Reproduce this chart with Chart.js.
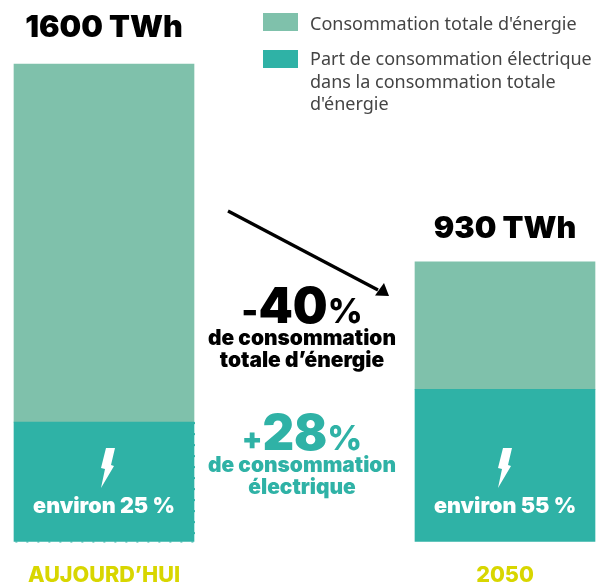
<!DOCTYPE html>
<html lang="fr"><head><meta charset="utf-8">
<script src="https://cdn.jsdelivr.net/npm/chart.js@4"></script>
<style>html,body{margin:0;padding:0;background:#fff}#w{position:absolute;left:0;top:0;width:608px;height:585px}canvas{display:block}</style>
</head><body><div id="w"><canvas id="c" width="608" height="585"></canvas></div>
<script>
const categories = ["AUJOURD’HUI", "2050"];
const electricValues = [400, 510];
const remainingValues = [1200, 427];
const totalLabels = ["1600 TWh", "930 TWh"];
const shareLabels = ["environ 25 %", "environ 55 %"];
const seriesNames = ["Part de consommation électrique dans la consommation totale d'énergie", "Consommation totale d'énergie"];
const legendLines = [["Consommation totale d'énergie"], ["Part de consommation électrique", "dans la consommation totale", "d'énergie"]];
const TEAL = "#2FB2A6", SAGE = "#7FC1AB", YELLOW = "#D8D600", INK = "#000000";
const HEAVY = "Inter";

function text(ctx, s, x, y, size, color, align, weight) {
  ctx.font = (weight || 900) + " " + size + "px " + HEAVY + ", sans-serif";
  ctx.fillStyle = color; ctx.textAlign = align || "center"; ctx.textBaseline = "alphabetic";
  ctx.fillText(s, x, y);
}
function bigPercent(ctx, sign, signSize, signLift, num, cx, y, color) {
  ctx.font = "900 " + signSize + "px " + HEAVY; const s = ctx.measureText(sign).width;
  ctx.font = "900 49px " + HEAVY; const a = ctx.measureText(num).width;
  ctx.font = "800 34px " + HEAVY; const b = ctx.measureText("%").width;
  const x0 = cx - (s + a + b) / 2;
  text(ctx, sign, x0, y - signLift, signSize, color, "left", 900);
  text(ctx, num, x0 + s, y, 49, color, "left", 900);
  text(ctx, "%", x0 + s + a, y, 34, color, "left", 800);
}
function bolt(ctx, cx, topY) {
  const p = [[2,0],[11,0],[7,17],[10,18],[-3,40],[1,21],[-3,20]];
  ctx.fillStyle = "#fff"; ctx.beginPath();
  p.forEach((q, i) => { const X = cx + q[0], Y = topY + q[1]; i ? ctx.lineTo(X, Y) : ctx.moveTo(X, Y); });
  ctx.closePath(); ctx.fill();
}
const annotations = {
  id: "annotations",
  afterDatasetsDraw(chart) {
    const ctx = chart.ctx, elec = chart.getDatasetMeta(0).data, rest = chart.getDatasetMeta(1).data;
    ctx.save();
    rest.forEach((b, i) => text(ctx, totalLabels[i], b.x, b.y - (i ? 24 : 27), 30.5, INK));
    elec.forEach((b, i) => {
      bolt(ctx, b.x - (i ? 4 : 0), 448);
      text(ctx, shareLabels[i], b.x, 513, 21.5, "#fff");
    });
    const e = elec[0];
    ctx.strokeStyle = TEAL; ctx.lineWidth = 1; ctx.setLineDash([2, 9]);
    ctx.beginPath(); ctx.moveTo(e.x + 90.5, e.y); ctx.lineTo(e.x + 90.5, e.base + 0.5); ctx.lineTo(e.x - 90, e.base + 0.5); ctx.stroke();
    ctx.setLineDash([]);
    ctx.strokeStyle = INK; ctx.lineWidth = 3.3; ctx.beginPath(); ctx.moveTo(228, 211); ctx.lineTo(378, 290); ctx.stroke();
    ctx.fillStyle = INK; ctx.beginPath(); ctx.moveTo(389, 296); ctx.lineTo(375, 295.5); ctx.lineTo(384, 283); ctx.closePath(); ctx.fill();
    bigPercent(ctx, "-", 36, 0, "40", 302, 323, INK);
    text(ctx, "de consommation", 302, 345, 20.9, INK);
    text(ctx, "totale d’énergie", 302, 367, 20.9, INK);
    bigPercent(ctx, "+", 30, 1, "28", 302, 450, TEAL);
    text(ctx, "de consommation", 302, 472, 20.9, TEAL);
    text(ctx, "électrique", 302, 494, 20.9, TEAL);
    const sw = [SAGE, TEAL], swY = [13, 50], lineY = [[30], [65, 88, 110]];
    sw.forEach((c, i) => {
      ctx.fillStyle = c; ctx.fillRect(263, swY[i], 35, 18);
      ctx.font = "400 18px 'Noto Sans', sans-serif"; ctx.fillStyle = "#444444"; ctx.textAlign = "left";
      legendLines[i].forEach((l, j) => ctx.fillText(l, 310, lineY[i][j]));
    });
    ctx.restore();
  }
};
new Chart(document.getElementById("c"), {
  type: "bar",
  data: {
    labels: categories,
    datasets: [
      { label: seriesNames[0], data: electricValues, backgroundColor: TEAL, barThickness: 180, clip: false, stack: "s" },
      { label: seriesNames[1], data: remainingValues, backgroundColor: SAGE, barThickness: 180, clip: false, stack: "s" }
    ]
  },
  options: {
    responsive: false, animation: false, devicePixelRatio: 1,
    layout: { padding: { left: 104, right: 103, top: 64, bottom: 0 } },
    plugins: { legend: { display: false }, tooltip: { enabled: false } },
    scales: {
      x: { stacked: true, offset: false, border: { display: false }, grid: { display: false, drawTicks: false },
           afterFit(s) { s.height = 43.5; },
           ticks: { autoSkip: false, maxRotation: 0, padding: 21, color: YELLOW, font: { family: HEAVY, size: 21.6, weight: 800 } } },
      y: { stacked: true, display: false, min: 0, max: 1600 }
    }
  },
  plugins: [annotations]
});
</script>
</body></html>
